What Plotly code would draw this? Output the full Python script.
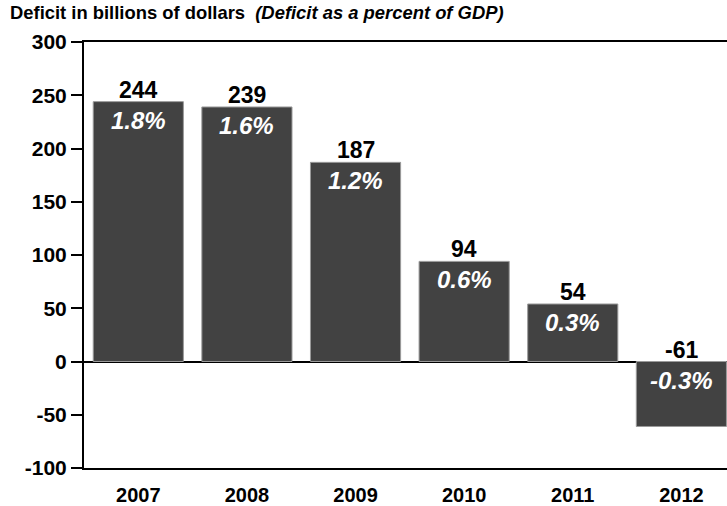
import plotly.graph_objects as go

years = ["2007", "2008", "2009", "2010", "2011", "2012"]
deficit = [244, 239, 187, 94, 54, -61]
pct_gdp = ["1.8%", "1.6%", "1.2%", "0.6%", "0.3%", "-0.3%"]
y_ticks = [-100, -50, 0, 50, 100, 150, 200, 250, 300]

FONT = "Liberation Sans, Arial, sans-serif"

fig = go.Figure()
fig.add_trace(go.Bar(
    x=years, y=deficit, width=0.83,
    marker=dict(color="#424242", line=dict(color="#9a9a9a", width=1)),
    hoverinfo="skip",
))

annotations = []
for i, (v, p) in enumerate(zip(deficit, pct_gdp)):
    top = max(v, 0)
    annotations.append(dict(x=i, y=top, xref="x", yref="y", text=f"<b>{v}</b>",
                            showarrow=False, yanchor="bottom", yshift=-3,
                            font=dict(family=FONT, size=23, color="black")))
    annotations.append(dict(x=i, y=top, xref="x", yref="y", text=f"<b><i>{p}</i></b>",
                            showarrow=False, yanchor="top", yshift=-3,
                            font=dict(family=FONT, size=24, color="white")))

fig.update_layout(
    width=727, height=506,
    margin=dict(l=84, r=0, t=42, b=32),
    paper_bgcolor="white", plot_bgcolor="white",
    showlegend=False,
    title=dict(text="<b>Deficit in billions of dollars</b>  <b><i>(Deficit as a percent of GDP)</i></b>",
               x=10 / 727, xanchor="left", xref="container", y=1 - 6 / 506, yanchor="top", yref="container",
               font=dict(family=FONT, size=18.4, color="black")),
    annotations=annotations,
    xaxis=dict(type="category", range=[-0.5, 5.42], showline=True, linecolor="black", linewidth=2, mirror=True,
               ticks="", showgrid=False, ticklabelstandoff=8,
               tickfont=dict(family=FONT, size=20, color="black", weight="bold")),
    yaxis=dict(range=[-100, 300], tickvals=y_ticks, ticktext=[str(t) for t in y_ticks],
               showline=True, linecolor="black", linewidth=2,
               ticks="outside", ticklen=11, tickwidth=2, tickcolor="black", showgrid=False,
               zeroline=True, zerolinecolor="black", zerolinewidth=2,
               tickfont=dict(family=FONT, size=21, color="black", weight="bold")),
)

fig.write_html("out.html", config={"displayModeBar": False},
               post_script="document.body.style.margin='0';")
